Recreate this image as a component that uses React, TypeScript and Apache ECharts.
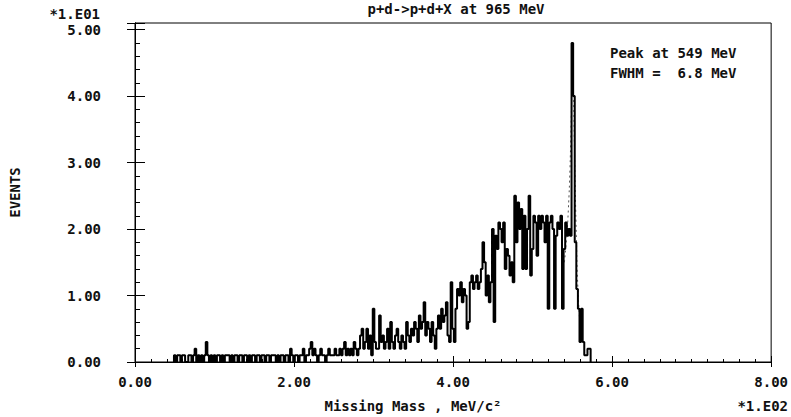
import React, { useEffect, useRef } from "react";
import * as echarts from "echarts";

// Histogram: missing-mass spectrum, x in units of 1.E02 MeV, y in units of 1.E01 events
const binStart = 0.5;
const binWidth = 0.02;
// raw event counts per bin (plotted as count / 10 because the y axis is *1.E01)
const eventCounts = [
  1, 0, 1, 1, 0, 1, 1, 0, 0, 1,
  1, 0, 1, 2, 0, 1, 0, 1, 0, 1,
  3, 1, 0, 1, 0, 1, 0, 1, 1, 0,
  1, 0, 1, 1, 1, 0, 1, 0, 1, 1,
  0, 1, 1, 0, 1, 1, 0, 1, 0, 1,
  1, 0, 1, 1, 0, 1, 1, 0, 1, 1,
  0, 1, 1, 1, 0, 1, 0, 1, 1, 0,
  1, 1, 0, 2, 1, 0, 1, 1, 0, 1,
  1, 2, 0, 1, 1, 2, 3, 1, 2, 1,
  0, 1, 2, 1, 1, 0, 1, 2, 1, 1,
  1, 2, 1, 1, 2, 1, 2, 3, 1, 2,
  1, 2, 1, 3, 2, 1, 2, 4, 5, 2,
  3, 5, 2, 4, 1, 8, 3, 2, 2, 7,
  3, 4, 2, 3, 5, 2, 6, 3, 2, 4,
  5, 3, 2, 4, 3, 2, 6, 4, 3, 5,
  4, 6, 5, 3, 7, 5, 6, 9, 4, 6,
  5, 3, 6, 4, 2, 5, 7, 5, 8, 6,
  7, 9, 4, 3, 12, 5, 3, 8, 11, 10,
  12, 9, 11, 10, 5, 6, 12, 13, 11, 12,
  13, 11, 12, 14, 18, 15, 10, 13, 9, 12,
  20, 6, 19, 17, 21, 20, 18, 21, 14, 17,
  16, 13, 15, 12, 25, 18, 24, 20, 23, 14,
  22, 14, 20, 25, 13, 17, 22, 21, 16, 22,
  20, 22, 21, 18, 22, 8, 21, 22, 20, 8,
  19, 21, 20, 22, 8, 17, 21, 19, 20, 19,
  48, 40, 18, 11, 8, 3, 8, 3, 1, 1,
  2, 2, 0,
];

// dashed peak fit curve
const fitX = [5.4, 5.43, 5.45, 5.47, 5.49, 5.5, 5.51, 5.53, 5.55, 5.57, 5.6];
const fitY = [1.5, 1.9, 2.3, 2.9, 3.9, 4.6, 4.3, 3.0, 1.9, 1.1, 0.5];

const xTicks = [0, 2, 4, 6, 8];
const yTicks = [0, 1, 2, 3, 4, 5];

const titleText = "p+d->p+d+X at 965 MeV";
const peakText = "Peak at 549 MeV";
const fwhmText = "FWHM =  6.8 MeV";
const xName = "Missing Mass , MeV/c\u00B2";
const yName = "EVENTS";
const yScale = "*1.E01";
const xScale = "*1.E02";

const FONT = "'DejaVu Sans Mono', 'Liberation Mono', monospace";

export default function App() {
  const ref = useRef<HTMLDivElement>(null);
  useEffect(() => {
    document.body.style.margin = "0";
    if (!ref.current) return;
    const chart = echarts.init(ref.current, null, { renderer: "svg" });
    const histData: [number, number][] = [];
    histData.push([binStart - binWidth, 0]);
    eventCounts.forEach((c, i) => {
      histData.push([+(binStart + i * binWidth).toFixed(3), c / 10]);
    });
    const fitData = fitX.map((x, i) => [x, fitY[i]]);
    const txt = {
      fontFamily: FONT,
      fontWeight: "bold" as const,
      fill: "#111",
    };
    chart.setOption({
      animation: false,
      backgroundColor: "#fff",
      grid: {
        left: 134,
        right: 19,
        top: 23,
        bottom: 55,
        show: true,
        borderColor: "#000",
        borderWidth: 1,
        backgroundColor: "transparent",
      },
      xAxis: [
        {
          type: "value",
          min: xTicks[0],
          max: xTicks[xTicks.length - 1],
          interval: 2,
          position: "bottom",
          axisLine: { show: true, lineStyle: { color: "#000", width: 1 } },
          axisTick: { show: true, inside: true, length: 6, lineStyle: { color: "#000" } },
          minorTick: { show: true, splitNumber: 10, length: 3, lineStyle: { color: "#000" } },
          splitLine: { show: false },
          axisLabel: {
            margin: 13,
            fontFamily: FONT,
            fontWeight: "bold",
            fontSize: 14,
            color: "#111",
            formatter: (v: number) => v.toFixed(2),
          },
        },
        {
          type: "value",
          min: xTicks[0],
          max: xTicks[xTicks.length - 1],
          interval: 2,
          position: "top",
          axisLine: { show: true, lineStyle: { color: "#000", width: 1 } },
          axisTick: { show: true, inside: true, length: 5, lineStyle: { color: "#000" } },
          splitLine: { show: false },
          axisLabel: { show: false },
        },
      ],
      yAxis: [
        {
          type: "value",
          min: 0,
          max: 5.1,
          interval: 1,
          position: "left",
          name: yName,
          nameLocation: "middle",
          nameGap: 113,
          nameRotate: 90,
          nameTextStyle: { fontFamily: FONT, fontWeight: "bold", fontSize: 14, color: "#111" },
          axisLine: { show: true, lineStyle: { color: "#000", width: 1 } },
          axisTick: { show: true, inside: true, length: 10, lineStyle: { color: "#000" } },
          minorTick: { show: true, splitNumber: 5, length: 5, lineStyle: { color: "#000" } },
          splitLine: { show: false },
          axisLabel: {
            margin: 34,
            fontFamily: FONT,
            fontWeight: "bold",
            fontSize: 14,
            color: "#111",
            formatter: (v: number) =>
              yTicks.some((t) => Math.abs(t - v) < 1e-6) ? v.toFixed(2) : "",
          },
        },
        {
          type: "value",
          min: 0,
          max: 5.1,
          interval: 1,
          position: "right",
          axisLine: { show: true, lineStyle: { color: "#000", width: 1 } },
          axisTick: { show: true, inside: true, length: 8, lineStyle: { color: "#000" } },
          splitLine: { show: false },
          axisLabel: { show: false },
        },
      ],
      series: [
        {
          type: "line",
          data: histData,
          step: "middle",
          showSymbol: false,
          symbol: "none",
          xAxisIndex: 0,
          yAxisIndex: 0,
          lineStyle: { color: "#000", width: 2 },
          z: 3,
        },
        {
          type: "line",
          data: fitData,
          smooth: true,
          showSymbol: false,
          symbol: "none",
          xAxisIndex: 0,
          yAxisIndex: 0,
          lineStyle: { color: "#555", width: 1, type: [2, 3] },
          z: 2,
        },
      ],
      graphic: [
        { type: "text", x: 456, y: 9, style: { ...txt, text: titleText, fontSize: 14, textAlign: "center", textVerticalAlign: "middle" } },
        { type: "text", x: 100, y: 14, style: { ...txt, text: yScale, fontSize: 14, textAlign: "right", textVerticalAlign: "middle" } },
        { type: "text", x: 610, y: 53, style: { ...txt, text: peakText, fontSize: 14, textAlign: "left", textVerticalAlign: "middle" } },
        { type: "text", x: 610, y: 73, style: { ...txt, text: fwhmText, fontSize: 14, textAlign: "left", textVerticalAlign: "middle" } },
        { type: "text", x: 413, y: 406, style: { ...txt, text: xName, fontSize: 14, textAlign: "center", textVerticalAlign: "middle" } },
        { type: "text", x: 788, y: 406, style: { ...txt, text: xScale, fontSize: 14, textAlign: "right", textVerticalAlign: "middle" } },
      ],
    });
    return () => chart.dispose();
  }, []);
  return <div ref={ref} style={{ width: 791, height: 417 }} />;
}
